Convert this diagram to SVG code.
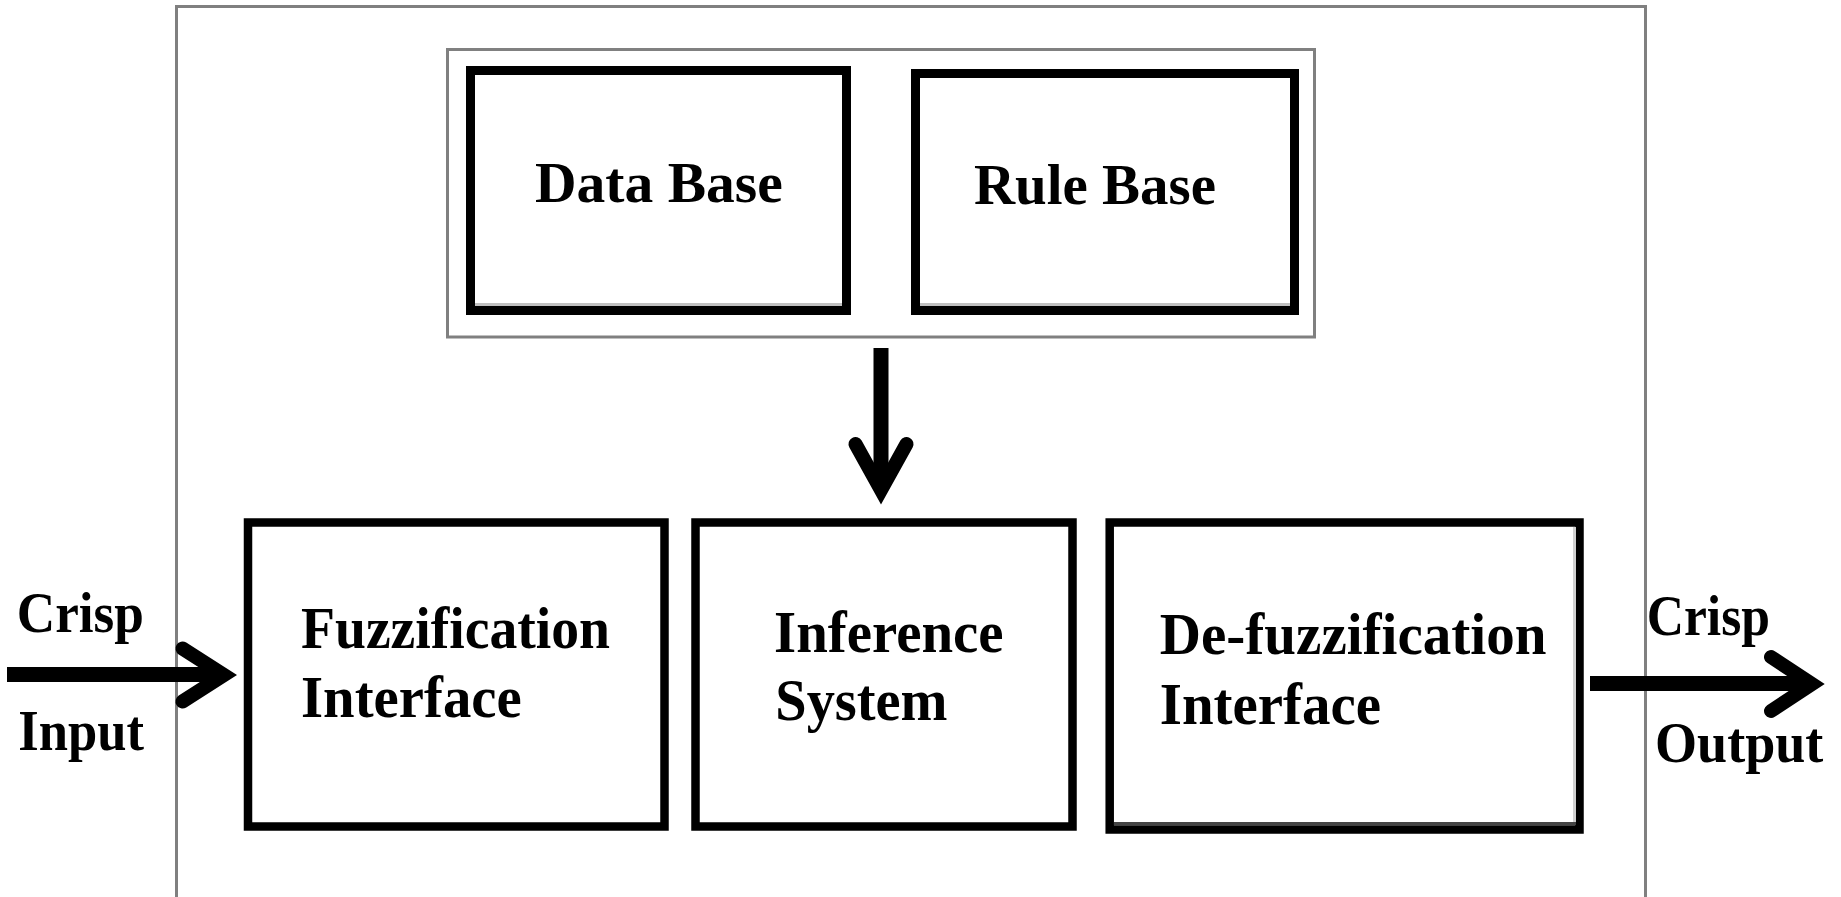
<svg xmlns="http://www.w3.org/2000/svg" width="1841" height="897" viewBox="0 0 1841 897">
  <style>
    .frame { fill: none; stroke: #808080; stroke-width: 3; }
    .box { fill: #ffffff; stroke: #000000; stroke-width: 9; }
    .box-low { fill: #ffffff; stroke: #000000; stroke-width: 8.5; }
    .lbl { font-family: "Liberation Serif", "Times New Roman", serif; font-weight: bold; fill: #000000; }
    .t-up { font-size: 58px; }
    .t-low { font-size: 59px; }
    .t-io { font-size: 56px; }
    .shaft { fill: none; stroke: #000000; stroke-width: 15; }
    .head { fill: none; stroke: #000000; stroke-width: 14; stroke-linejoin: miter; stroke-miterlimit: 4; stroke-linecap: round; }
  </style>

  <rect width="1841" height="897" fill="#ffffff"/>

  <!-- controller enclosure, open at the bottom -->
  <path id="controller-frame" class="frame" d="M176.5,897 V6.5 H1645.5 V897"/>

  <!-- knowledge base enclosure -->
  <rect id="knowledge-base" class="frame" x="447.5" y="49.5" width="867" height="287.5"/>

  <g id="data-base">
    <rect class="box" x="470.5" y="70.5" width="376" height="240"/>
    <line x1="475" y1="304.5" x2="842" y2="304.5" stroke="#c0c0c0" stroke-width="3"/>
    <text class="lbl t-up" x="535" y="201.7" textLength="247.7" lengthAdjust="spacingAndGlyphs">Data Base</text>
  </g>

  <g id="rule-base">
    <rect class="box" x="915.5" y="73.5" width="379" height="237"/>
    <line x1="920" y1="304.5" x2="1290" y2="304.5" stroke="#c0c0c0" stroke-width="3"/>
    <text class="lbl t-up" x="974" y="204" textLength="242" lengthAdjust="spacingAndGlyphs">Rule Base</text>
  </g>

  <g id="fuzzification-interface">
    <rect class="box-low" x="248" y="522.5" width="416.5" height="304"/>
    <text class="lbl t-low" x="301" y="648.3" textLength="309" lengthAdjust="spacingAndGlyphs">Fuzzification</text>
    <text class="lbl t-low" x="301" y="716.7" textLength="220.7" lengthAdjust="spacingAndGlyphs">Interface</text>
  </g>

  <g id="inference-system">
    <rect class="box-low" x="695.5" y="522.5" width="377" height="304"/>
    <text class="lbl t-low" x="774" y="651.7" textLength="229.6" lengthAdjust="spacingAndGlyphs">Inference</text>
    <text class="lbl t-low" x="775.3" y="720" textLength="172.2" lengthAdjust="spacingAndGlyphs">System</text>
  </g>

  <g id="defuzzification-interface">
    <rect class="box-low" x="1109.7" y="522.5" width="469.8" height="307"/>
    <line x1="1114" y1="823.5" x2="1575" y2="823.5" stroke="#444444" stroke-width="3"/>
    <line x1="1574.5" y1="527" x2="1574.5" y2="822" stroke="#d0d0d0" stroke-width="3"/>
    <text class="lbl t-low" x="1159.8" y="654" textLength="386.6" lengthAdjust="spacingAndGlyphs">De-fuzzification</text>
    <text class="lbl t-low" x="1159.8" y="724" textLength="221.2" lengthAdjust="spacingAndGlyphs">Interface</text>
  </g>

  <g id="io-labels">
    <text class="lbl t-io" x="16.7" y="631.7" textLength="127.3" lengthAdjust="spacingAndGlyphs">Crisp</text>
    <text class="lbl t-io" x="18.3" y="750" textLength="125.7" lengthAdjust="spacingAndGlyphs">Input</text>
    <text class="lbl t-io" x="1646.7" y="635" textLength="123.3" lengthAdjust="spacingAndGlyphs">Crisp</text>
    <text class="lbl t-io" x="1655" y="761.7" textLength="168.3" lengthAdjust="spacingAndGlyphs">Output</text>
  </g>

  <g id="connectors">
    <!-- crisp input into fuzzification -->
    <line class="shaft" x1="7" y1="674.5" x2="222" y2="674.5"/>
    <polyline class="head" points="182.5,648.5 224,675 182.5,701.5"/>
    <!-- knowledge base into inference -->
    <line class="shaft" x1="881" y1="348" x2="881" y2="490" stroke-width="14"/>
    <polyline class="head" points="855.5,444 881,490 906.5,444"/>
    <!-- defuzzification to crisp output -->
    <line class="shaft" x1="1590" y1="683.5" x2="1810" y2="683.5"/>
    <polyline class="head" points="1771,657 1812,684 1771,711"/>
  </g>
</svg>
